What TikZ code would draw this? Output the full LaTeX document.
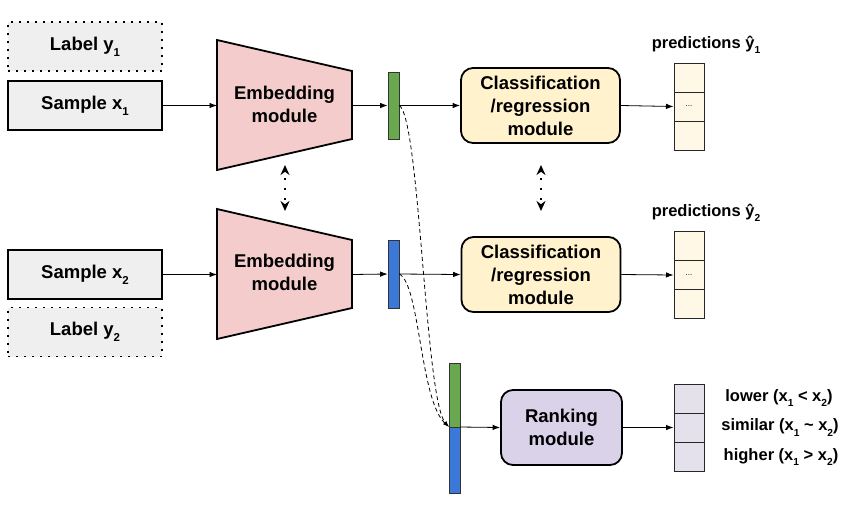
\documentclass[tikz,border=0pt]{standalone}
\usepackage{fontspec}
\setmainfont{Liberation Sans}
\usetikzlibrary{arrows.meta}
\definecolor{gbox}{HTML}{EFEFEF}
\definecolor{pinkc}{HTML}{F4CCCC}
\definecolor{greenc}{HTML}{6AA84F}
\definecolor{bluec}{HTML}{3C78D8}
\definecolor{yellc}{HTML}{FFF2CC}
\definecolor{predc}{HTML}{FFF8E6}
\definecolor{rankc}{HTML}{D9D2E9}
\definecolor{rcell}{HTML}{E4E1EC}
\newcommand{\lsub}[1]{\raisebox{-0.32em}{\scalebox{0.62}{#1}}}
\begin{document}
\begin{tikzpicture}[x=1pt,y=-1pt,
  txt/.style={font=\fontsize{18.5}{23}\selectfont\bfseries, align=center},
  lbl/.style={draw, line width=1.8pt, dash pattern=on 2pt off 6pt, fill=gbox, minimum width=154pt, minimum height=49pt, inner sep=0pt, txt},
  smp/.style={draw, line width=1.8pt, fill=gbox, minimum width=154pt, minimum height=49pt, inner sep=0pt, txt},
  bar/.style={draw=black!80, line width=0.8pt, minimum width=11pt, inner sep=0pt},
  cls/.style={draw, line width=1.8pt, rounded corners=12pt, fill=yellc, minimum width=159pt, minimum height=75pt, inner sep=0pt, txt},
  rnk/.style={draw, line width=1.8pt, rounded corners=12pt, fill=rankc, minimum width=121pt, minimum height=75pt, inner sep=0pt, txt},
  cell/.style={draw=black!85, line width=1pt, minimum width=30pt, minimum height=29pt, inner sep=0pt, font=\fontsize{8}{9}\selectfont},
  small/.style={font=\fontsize{16.5}{19}\selectfont\bfseries},
  arr/.style={-{Latex[length=7.5pt,width=5.5pt]}, line width=0.8pt},
  dotarr/.style={{Stealth[length=10pt,width=9pt]}-{Stealth[length=10pt,width=9pt]}, line width=1.6pt, dash pattern=on 2pt off 8pt, dash phase=3pt},
  dsh/.style={-{Latex[length=6pt,width=4pt]}, line width=0.8pt, dash pattern=on 4pt off 3pt}
]
\useasboundingbox (0,0) rectangle (851,507);

% inputs
\node[lbl] (ly1) at (85,46.5) {Label y\lsub{1}};
\node[smp] (sx1) at (85,105.5) {Sample x\lsub{1}};
\node[smp] (sx2) at (85,274.5) {Sample x\lsub{2}};
\node[lbl] (ly2) at (85,332) {Label y\lsub{2}};

% embedding modules
\coordinate (e1in) at (217,105.5);
\coordinate (e1out) at (352,105.5);
\coordinate (e2in) at (217,274.5);
\coordinate (e2out) at (352,274.5);
\draw[line width=1.8pt, fill=pinkc, line join=miter] (217,40) -- (352,71) -- (352,139) -- (217,170) -- cycle;
\draw[line width=1.8pt, fill=pinkc, line join=miter] (217,209) -- (352,240) -- (352,308) -- (217,339) -- cycle;
\node[txt] (emb1) at (284.5,104) {Embedding\\module};
\node[txt] (emb2) at (284.5,272.5) {Embedding\\module};

% embeddings
\node[bar, fill=greenc, minimum height=67pt] (b1) at (393.5,105.5) {};
\node[bar, fill=bluec, minimum height=68pt] (b2) at (393.5,274) {};

% classification
\node[cls] (c1) at (540.5,105.5) {Classification\\/regression\\module};
\node[cls] (c2) at (541,274.5) {Classification\\/regression\\module};

% predictions
\node[cell, fill=predc] (p1a) at (689,77.5) {};
\node[cell, fill=predc] (p1b) at (689,106.5) {...};
\node[cell, fill=predc] (p1c) at (689,135.5) {};
\node[cell, fill=predc] (p2a) at (689,246) {};
\node[cell, fill=predc] (p2b) at (689,275) {...};
\node[cell, fill=predc] (p2c) at (689,304) {};
\node[small] (pt1) at (706,45) {predictions ŷ\lsub{1}};
\node[small] (pt2) at (706,213) {predictions ŷ\lsub{2}};

% ranking
\node[bar, fill=greenc, minimum height=64pt] (rg) at (454.5,395) {};
\node[bar, fill=bluec, minimum height=66pt] (rb) at (454.5,460) {};
\coordinate (rj) at (449,427);
\coordinate (rjo) at (460,427);
\node[rnk] (rk) at (561.5,427.5) {Ranking\\module};
\node[cell, fill=rcell] (r1) at (689,398.5) {};
\node[cell, fill=rcell] (r2) at (689,427.5) {};
\node[cell, fill=rcell] (r3) at (689,456.5) {};
\node[small] (t1) at (779,398) {lower (x\lsub{1} < x\lsub{2})};
\node[small] (t2) at (780,427.5) {similar (x\lsub{1} \char`~\ x\lsub{2})};
\node[small] (t3) at (781,457) {higher (x\lsub{1} > x\lsub{2})};

% connectors
\draw[arr] (sx1.east) -- (e1in);
\draw[arr] (sx2.east) -- (e2in);
\draw[arr] (e1out) -- (b1.west);
\draw[arr] (e2out) -- (b2.west);
\draw[arr] (b1.east) -- (c1.west);
\draw[arr] (b2.east) -- (c2.west);
\draw[arr] (c1.east) -- (p1b.west);
\draw[arr] (c2.east) -- (p2b.west);
\draw[arr] (rjo) -- (rk.west);
\draw[arr] (rk.east) -- (r2.west);

\coordinate (d1a) at (285,165);
\coordinate (d1b) at (285,211);
\coordinate (d2a) at (541,165);
\coordinate (d2b) at (541,211);
\draw[dotarr] (d1a) -- (d1b);
\draw[dotarr] (d2a) -- (d2b);

\draw[dsh] (b1.east) .. controls (420,120) and (425,400) .. (rj);
\draw[dsh] (b2.east) .. controls (420,285) and (420,400) .. (rj);
\end{tikzpicture}
\end{document}
